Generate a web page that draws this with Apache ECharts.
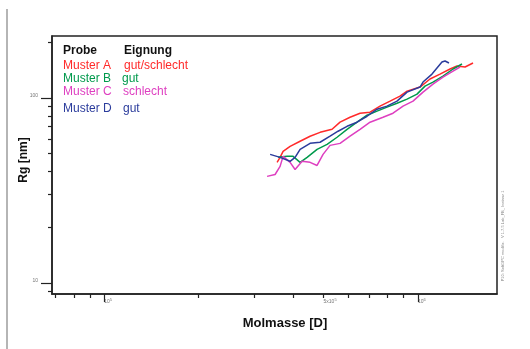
<!DOCTYPE html>
<html>
<head>
<meta charset="utf-8">
<script src="https://cdn.jsdelivr.net/npm/echarts@6/dist/echarts.min.js"></script>
<style>
  html, body { margin: 0; padding: 0; background: #fff; }
  #chart { width: 530px; height: 349px; }
</style>
</head>
<body>
<div id="chart"></div>
<script>
// Molmasse [D] and Rg [nm]
const massA = [355600, 363500, 371600, 391200, 421000, 453000, 487400, 532300, 564400, 607300, 653600, 703300, 756800, 814500, 876200, 922600, 1014800, 1092000, 1175000, 1265000, 1331000, 1412000, 1497000];
const rgA = [44.9, 47.8, 51.5, 54.8, 58.4, 62.2, 65.3, 67.8, 74.1, 78.8, 82.9, 83.9, 90.5, 96.3, 102.5, 109.1, 114.8, 126.9, 135.0, 143.8, 149.2, 147.4, 154.9];

const massB = [358200, 382700, 399900, 421000, 443200, 476800, 513100, 552100, 594100, 639300, 688000, 740300, 796700, 857300, 922600, 992700, 1052700, 1116000, 1201000, 1293000, 1381000];
const rgB = [47.8, 48.4, 48.4, 44.9, 47.8, 52.8, 56.2, 61.4, 67.8, 74.1, 80.8, 85.0, 89.4, 93.9, 98.8, 105.1, 116.2, 122.2, 131.7, 143.8, 153.0];

const massC = [330400, 350400, 363500, 371600, 391200, 405800, 427200, 453000, 476800, 498200, 524500, 564400, 607300, 653600, 703300, 773600, 832500, 896000, 964000, 1037300, 1116000, 1201000, 1293000, 1361000];
const rgC = [37.7, 38.6, 42.7, 48.4, 44.9, 41.1, 45.5, 44.9, 43.2, 49.6, 55.5, 56.9, 62.2, 67.8, 74.1, 78.8, 82.9, 90.5, 96.3, 107.8, 119.2, 130.1, 140.2, 147.4];

const massD = [337900, 363500, 391200, 405800, 421000, 453000, 487400, 524500, 556200, 594100, 639300, 688000, 740300, 796700, 857300, 922600, 1014800, 1037300, 1108000, 1192000, 1219000, 1255000];
const rgD = [49.6, 47.8, 45.5, 47.8, 52.8, 56.9, 57.7, 62.2, 66.2, 70.4, 74.1, 79.8, 87.1, 90.5, 96.3, 107.8, 114.8, 122.2, 135.0, 156.9, 158.9, 154.9];

const probes = ["Muster A", "Muster B", "Muster C", "Muster D"];
const eignung = ["gut/schlecht", "gut", "schlecht", "gut"];

const xMinorTicks = [70000, 80000, 90000, 200000, 300000, 400000, 500000, 600000, 700000, 800000, 900000];
const xMajorTicks = [100000, 1000000];
const xTickLabels = [100000, 500000, 1000000];
const yMinorTicks = [9, 20, 30, 40, 50, 60, 70, 80, 90, 200];
const yMajorTicks = [10, 100];

const colors = ["#ff2a2a", "#00994c", "#de3fc0", "#2b3c9c"];
const font = "'Liberation Sans', Arial, sans-serif";

const chart = echarts.init(document.getElementById("chart"));

const pairs = (xs, ys) => xs.map((x, i) => [x, ys[i]]);
const allData = [pairs(massA, rgA), pairs(massB, rgB), pairs(massC, rgC), pairs(massD, rgD)];

const xLabel = (v) => {
  if (v === 100000) return "{b|10}{s|5}";
  if (v === 500000) return "{b|5x10}{s|5}";
  if (v === 1000000) return "{b|10}{s|6}";
  return "";
};

const labelRich = {
  b: { fontSize: 5, color: "#777", fontFamily: font },
  s: { fontSize: 4, color: "#777", fontFamily: font, padding: [0, 0, 4, 0] }
};

const xMin = 68200, xMax = 1785000, yMin = 8.7, yMax = 217;

const legendTexts = [];
legendTexts.push({ type: "text", left: 63, top: 45, style: { text: "Probe", fontSize: 12, fontWeight: "bold", fill: "#111", fontFamily: font } });
legendTexts.push({ type: "text", left: 124, top: 45, style: { text: "Eignung", fontSize: 12, fontWeight: "bold", fill: "#111", fontFamily: font } });
const rowTops = [60, 73, 86, 103];
const eigLeft = [124, 122, 123, 123];
probes.forEach((p, i) => {
  legendTexts.push({ type: "text", left: 63, top: rowTops[i], style: { text: p, fontSize: 12, fill: colors[i], fontFamily: font } });
  legendTexts.push({ type: "text", left: eigLeft[i], top: rowTops[i], style: { text: eignung[i], fontSize: 12, fill: colors[i], fontFamily: font } });
});

const option = {
  animation: false,
  backgroundColor: "#fff",
  grid: {
    left: 52, top: 36, right: 33, bottom: 55,
    show: true, borderColor: "#222", borderWidth: 1.5, backgroundColor: "transparent"
  },
  xAxis: [
    {
      type: "log", logBase: 10, min: xMin, max: xMax, position: "bottom",
      axisLine: { show: true, lineStyle: { color: "#222", width: 1.5 } },
      axisTick: { show: true, inside: false, length: 4, customValues: xMinorTicks, lineStyle: { color: "#222", width: 1.2 } },
      axisLabel: { show: true, customValues: xTickLabels, formatter: xLabel, rich: labelRich, align: "left", margin: 4, showMinLabel: true, showMaxLabel: true },
      splitLine: { show: false }, minorTick: { show: false }
    },
    {
      type: "log", logBase: 10, min: xMin, max: xMax, position: "bottom",
      axisLine: { show: false },
      axisTick: { show: true, inside: false, length: 8, customValues: xMajorTicks, lineStyle: { color: "#222", width: 1.2 } },
      axisLabel: { show: false },
      splitLine: { show: false }
    }
  ],
  yAxis: [
    {
      type: "log", logBase: 10, min: yMin, max: yMax, position: "left",
      axisLine: { show: true, lineStyle: { color: "#222", width: 1.5 } },
      axisTick: { show: true, inside: false, length: 4, customValues: yMinorTicks, lineStyle: { color: "#222", width: 1.2 } },
      axisLabel: { show: true, customValues: yMajorTicks, fontSize: 5, color: "#777", fontFamily: font, margin: 14, verticalAlign: "bottom" },
      splitLine: { show: false }, minorTick: { show: false }
    },
    {
      type: "log", logBase: 10, min: yMin, max: yMax, position: "left",
      axisLine: { show: false },
      axisTick: { show: true, inside: false, length: 11, customValues: yMajorTicks, lineStyle: { color: "#222", width: 1.2 } },
      axisLabel: { show: false },
      splitLine: { show: false }
    }
  ],
  series: allData.map((d, i) => ({
    name: probes[i],
    type: "line",
    data: d,
    showSymbol: false,
    symbol: "none",
    lineStyle: { color: colors[i], width: 1.5 },
    z: 3
  })),
  graphic: [
    { type: "rect", shape: { x: 6, y: 9, width: 2, height: 340 }, style: { fill: "#b5b5b5" } },
    { type: "text", x: 24, y: 160, rotation: Math.PI / 2, style: { text: "Rg [nm]", fontSize: 12, fontWeight: "bold", fill: "#111", fontFamily: font, align: "center", verticalAlign: "middle" } },
    { type: "text", x: 285, y: 323, style: { text: "Molmasse [D]", fontSize: 13, fontWeight: "bold", fill: "#111", fontFamily: font, align: "center", verticalAlign: "middle" } },
    { type: "text", x: 503, y: 236, rotation: Math.PI / 2, style: { text: "P10: SoftGPC modifiz.   V 1.7.5 Lab_FB_ Instanz 1", fontSize: 4, fill: "#888", fontFamily: font, align: "center", verticalAlign: "middle" } }
  ].concat(legendTexts)
};

chart.setOption(option);
</script>
</body>
</html>
